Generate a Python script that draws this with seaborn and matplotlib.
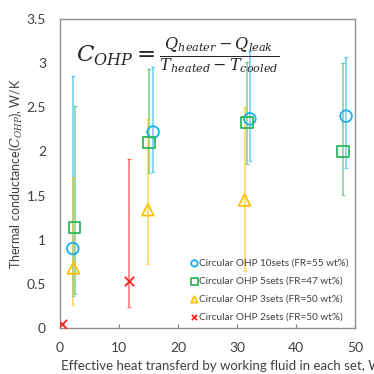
import numpy as np
import pandas as pd
import seaborn as sns
import matplotlib.pyplot as plt

# data
labels = ['Circular OHP 10sets (FR=55 wt%)', 'Circular OHP 5sets (FR=47 wt%)',
          'Circular OHP 3sets (FR=50 wt%)', 'Circular OHP 2sets (FR=50 wt%)']
colors = ['#1AB0F0', '#2DB85A', '#FFC000', '#FF2020']
markers = ['o', 's', '^', 'x']

x10 = [2.2, 15.8, 32.2, 48.5]
y10 = [0.90, 2.22, 2.37, 2.40]
lo10 = [0.36, 1.77, 1.89, 1.81]
hi10 = [2.86, 2.96, 3.14, 3.07]

x5 = [2.5, 15.1, 31.7, 48.0]
y5 = [1.14, 2.10, 2.33, 2.00]
lo5 = [0.38, 1.76, 1.86, 1.51]
hi5 = [2.52, 2.94, 3.01, 3.00]

x3 = [2.3, 14.9, 31.3]
y3 = [0.68, 1.34, 1.45]
lo3 = [0.26, 0.73, 0.65]
hi3 = [1.70, 2.37, 2.50]

x2 = [0.4, 11.7]
y2 = [0.05, 0.53]
lo2 = [0.05, 0.24]
hi2 = [0.05, 1.91]

series = [(x10, y10, lo10, hi10), (x5, y5, lo5, hi5), (x3, y3, lo3, hi3), (x2, y2, lo2, hi2)]

sns.set_style('white')
plt.rcParams['font.family'] = ['Lato', 'DejaVu Sans']
plt.rcParams['mathtext.fontset'] = 'dejavuserif'

fig = plt.figure(figsize=(3.74, 3.74), dpi=100)
ax = fig.add_axes([0.160, 0.123, 0.789, 0.826])

for (xs, ys, lo, hi), c, m, lab in zip(series, colors, markers, labels):
    df = pd.DataFrame({'x': xs, 'y': ys, 'lo': lo, 'hi': hi})
    ax.errorbar(df['x'], df['y'], yerr=[df['y'] - df['lo'], df['hi'] - df['y']],
                fmt='none', ecolor=c, alpha=0.55, elinewidth=1.3, capsize=1.5, zorder=1)
    if m == 'x':
        sns.scatterplot(data=df, x='x', y='y', marker=m, color=c, s=45,
                        linewidth=1.3, label=lab, ax=ax, zorder=3)
    else:
        sns.scatterplot(data=df, x='x', y='y', marker=m, s=70, facecolors='none',
                        edgecolor=c, linewidth=1.3, label=lab, ax=ax, zorder=3)

ax.set_xlim(0, 50)
ax.set_ylim(0, 3.5)
ax.set_xticks([0, 10, 20, 30, 40, 50])
ax.set_xticklabels(['0', '10', '20', '30', '40', '50'])
ax.set_yticks([0, 0.5, 1, 1.5, 2, 2.5, 3, 3.5])
ax.set_yticklabels(['0', '0.5', '1', '1.5', '2', '2.5', '3', '3.5'])
ax.tick_params(axis='x', direction='in', length=3, color='#808080', labelsize=10,
               labelcolor='#404040', pad=10, bottom=True)
ax.tick_params(axis='y', length=0, labelsize=10, labelcolor='#404040', pad=10)
for sp in ax.spines.values():
    sp.set_color('#909090')
    sp.set_linewidth(1.0)

ax.set_xlabel('Effective heat transferd by working fluid in each set, W', fontsize=9.5,
              color='#404040', loc='left')
ax.xaxis.set_label_coords(0.005, -0.103, transform=ax.transAxes)
ax.set_ylabel('Thermal conductance($C_{OHP}$), W/K', fontsize=9, color='#404040')
ax.yaxis.set_label_coords(-0.119, 0.5, transform=ax.transAxes)

ax.text(0.055, 0.88, r'$C_{OHP} = \frac{Q_{heater} - Q_{leak}}{T_{heated} - T_{cooled}}$',
        transform=ax.transAxes, fontsize=16.5, va='center', ha='left')

leg = ax.legend(loc='lower right', frameon=False, fontsize=7.2, handletextpad=0.1,
                handlelength=0.8, labelspacing=0.9, borderaxespad=0.2,
                markerscale=0.55)
for t in leg.get_texts():
    t.set_color('#404040')

fig.savefig('out.png', dpi=100)
